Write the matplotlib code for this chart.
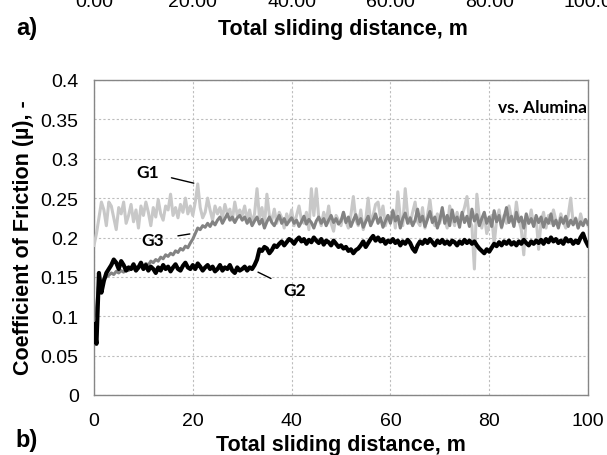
import numpy as np
import matplotlib
matplotlib.use("Agg")
import matplotlib.pyplot as plt
from matplotlib.transforms import blended_transform_factory

# ---------------- data (0.5 m steps) ----------------
g2_cof = [
    0.090, 0.065, 0.155, 0.130, 0.145, 0.155, 0.160, 0.165, 0.172, 0.168, 0.160, 0.170, 0.165, 0.158, 0.162, 0.160, 0.166, 0.158, 0.162, 0.168,
    0.160, 0.165, 0.158, 0.163, 0.160, 0.155, 0.162, 0.158, 0.165, 0.160, 0.163, 0.157, 0.162, 0.166, 0.160, 0.158, 0.164, 0.168, 0.162, 0.160,
    0.165, 0.160, 0.167, 0.163, 0.158, 0.162, 0.165, 0.160, 0.163, 0.157, 0.160, 0.165, 0.158, 0.162, 0.160, 0.165, 0.158, 0.155, 0.162, 0.158,
    0.160, 0.163, 0.158, 0.162, 0.160, 0.165, 0.172, 0.185, 0.183, 0.188, 0.186, 0.180, 0.184, 0.190, 0.188, 0.192, 0.195, 0.190, 0.194, 0.198,
    0.196, 0.192, 0.197, 0.200, 0.195, 0.198, 0.192, 0.197, 0.194, 0.200, 0.196, 0.193, 0.198, 0.191, 0.196, 0.194, 0.190, 0.196, 0.192, 0.188,
    0.190, 0.186, 0.188, 0.183, 0.185, 0.180, 0.184, 0.186, 0.190, 0.195, 0.188, 0.193, 0.198, 0.202, 0.196, 0.200, 0.195, 0.198, 0.192, 0.196,
    0.194, 0.198, 0.193, 0.196, 0.190, 0.195, 0.192, 0.197, 0.193, 0.186, 0.182, 0.190, 0.195, 0.192, 0.197, 0.193, 0.198, 0.194, 0.190, 0.196,
    0.193, 0.197, 0.192, 0.195, 0.191, 0.196, 0.194, 0.190, 0.195, 0.192, 0.197, 0.193, 0.196, 0.192, 0.195, 0.190, 0.186, 0.183, 0.180, 0.185,
    0.182, 0.187, 0.192, 0.189, 0.194, 0.190, 0.195, 0.192, 0.196, 0.191, 0.194, 0.190, 0.195, 0.192, 0.197, 0.193, 0.190, 0.195, 0.192, 0.196,
    0.193, 0.197, 0.192, 0.198, 0.194, 0.200, 0.195, 0.198, 0.193, 0.196, 0.192, 0.199, 0.195, 0.197, 0.192, 0.196, 0.193, 0.200, 0.205, 0.196, 0.190,
]

g3_cof = [
    0.100, 0.110, 0.145, 0.140, 0.148, 0.150, 0.152, 0.155, 0.153, 0.157, 0.155, 0.158, 0.156, 0.160, 0.158, 0.162, 0.160, 0.163, 0.161, 0.165,
    0.163, 0.167, 0.165, 0.170, 0.168, 0.172, 0.170, 0.175, 0.173, 0.178, 0.176, 0.180, 0.178, 0.183, 0.181, 0.186, 0.184, 0.189, 0.187, 0.193,
    0.198, 0.205, 0.212, 0.210, 0.215, 0.213, 0.218, 0.214, 0.220, 0.216, 0.222, 0.226, 0.218, 0.224, 0.230, 0.222, 0.226, 0.219, 0.225, 0.228,
    0.222, 0.226, 0.218, 0.224, 0.215, 0.221, 0.226, 0.217, 0.223, 0.212, 0.220, 0.226, 0.219, 0.215, 0.222, 0.228, 0.218, 0.224, 0.216, 0.221,
    0.225, 0.218, 0.222, 0.214, 0.220, 0.227, 0.217, 0.223, 0.219, 0.212, 0.221, 0.226, 0.218, 0.224, 0.215, 0.222, 0.228, 0.219, 0.224, 0.217,
    0.221, 0.232, 0.219, 0.226, 0.214, 0.222, 0.229, 0.217, 0.224, 0.213, 0.220, 0.227, 0.215, 0.222, 0.230, 0.218, 0.225, 0.213, 0.221, 0.228,
    0.218, 0.234, 0.221, 0.227, 0.212, 0.224, 0.231, 0.218, 0.225, 0.215, 0.222, 0.236, 0.220, 0.227, 0.214, 0.223, 0.233, 0.219, 0.226, 0.212,
    0.222, 0.238, 0.218, 0.228, 0.215, 0.235, 0.220, 0.226, 0.213, 0.232, 0.219, 0.227, 0.214, 0.236, 0.221, 0.229, 0.215, 0.224, 0.232, 0.218,
    0.226, 0.214, 0.234, 0.220, 0.228, 0.213, 0.225, 0.238, 0.219, 0.227, 0.214, 0.232, 0.220, 0.226, 0.212, 0.230, 0.218, 0.224, 0.214, 0.228,
    0.219, 0.226, 0.213, 0.224, 0.218, 0.230, 0.215, 0.222, 0.212, 0.225, 0.218, 0.227, 0.214, 0.222, 0.216, 0.224, 0.212, 0.220, 0.215, 0.223, 0.217,
]

g1_cof = [
    0.190, 0.205, 0.225, 0.245, 0.235, 0.215, 0.245, 0.240, 0.225, 0.210, 0.238, 0.230, 0.245, 0.218, 0.228, 0.242, 0.220, 0.235, 0.212, 0.240,
    0.228, 0.245, 0.232, 0.215, 0.238, 0.226, 0.248, 0.230, 0.222, 0.240, 0.235, 0.255, 0.228, 0.238, 0.225, 0.242, 0.232, 0.250, 0.230, 0.240,
    0.228, 0.245, 0.268, 0.238, 0.225, 0.232, 0.250, 0.235, 0.222, 0.240, 0.230, 0.238, 0.225, 0.242, 0.230, 0.236, 0.222, 0.245, 0.228, 0.235,
    0.228, 0.240, 0.222, 0.235, 0.218, 0.230, 0.262, 0.225, 0.238, 0.215, 0.255, 0.228, 0.222, 0.236, 0.218, 0.232, 0.225, 0.212, 0.230, 0.220,
    0.235, 0.215, 0.228, 0.240, 0.222, 0.218, 0.232, 0.210, 0.262, 0.228, 0.262, 0.225, 0.215, 0.232, 0.220, 0.240, 0.218, 0.208, 0.228, 0.222,
    0.215, 0.232, 0.220, 0.212, 0.228, 0.252, 0.222, 0.215, 0.235, 0.210, 0.222, 0.250, 0.218, 0.228, 0.242, 0.245, 0.225, 0.240, 0.215, 0.228,
    0.220, 0.235, 0.212, 0.258, 0.225, 0.215, 0.262, 0.228, 0.218, 0.232, 0.245, 0.220, 0.215, 0.238, 0.212, 0.228, 0.248, 0.222, 0.215, 0.230,
    0.218, 0.235, 0.222, 0.212, 0.240, 0.225, 0.215, 0.232, 0.220, 0.228, 0.238, 0.252, 0.222, 0.215, 0.160, 0.255, 0.225, 0.212, 0.230, 0.205,
    0.215, 0.228, 0.192, 0.222, 0.235, 0.212, 0.228, 0.218, 0.240, 0.225, 0.215, 0.245, 0.222, 0.210, 0.178, 0.228, 0.218, 0.235, 0.215, 0.225,
    0.185, 0.220, 0.232, 0.212, 0.228, 0.218, 0.235, 0.222, 0.215, 0.230, 0.220, 0.212, 0.228, 0.250, 0.218, 0.225, 0.212, 0.230, 0.218, 0.222, 0.215,
]

x_ticks = [0, 20, 40, 60, 80, 100]
y_ticks = [0, 0.05, 0.1, 0.15, 0.2, 0.25, 0.3, 0.35, 0.4]
y_tick_labels = ["0", "0.05", "0.1", "0.15", "0.2", "0.25", "0.3", "0.35", "0.4"]
top_tick_labels = ["0.00", "20.00", "40.00", "60.00", "80.00", "100.0"]

# ---------------- figure ----------------
plt.rcParams['font.family'] = ['Liberation Sans', 'DejaVu Sans']
W, H = 607, 456
fig = plt.figure(figsize=(W / 100, H / 100), dpi=100)
ax = fig.add_axes([94 / W, 1 - 396 / H, (588 - 94) / W, (396 - 81) / H])

def xs(series):
    return np.linspace(0, 100, len(series))

ax.plot(xs(g1_cof), g1_cof, color='#c8c8c8', lw=2.2, zorder=3, solid_joinstyle='round')
ax.plot(xs(g3_cof), g3_cof, color='#838383', lw=2.2, zorder=4, solid_joinstyle='round')
ax.plot(xs(g2_cof), g2_cof, color='black', lw=3.0, zorder=5, solid_joinstyle='round')

ax.set_xlim(0, 100)
ax.set_ylim(0, 0.4)
ax.set_xticks(x_ticks)
ax.set_xticklabels([str(v) for v in x_ticks])
ax.set_yticks(y_ticks)
ax.set_yticklabels(y_tick_labels)
ax.tick_params(axis='both', length=0, labelsize=14, colors='black')
ax.tick_params(axis='y', pad=11)
ax.tick_params(axis='x', pad=12)
ax.grid(True, color='#bdbdbd', linestyle=(0, (2, 2)), lw=0.8, zorder=0)
for s in ax.spines.values():
    s.set_color('#868686')
    s.set_linewidth(1.0)

lab_font = dict(family=['Lato', 'DejaVu Sans'], fontweight='bold', fontsize=12.5)
ax.annotate('G1', xy=(20.2, 0.269), xytext=(10.9, 0.283), ha='center', va='center',
            arrowprops=dict(arrowstyle='-', color='black', lw=1.0, shrinkA=7, shrinkB=0), **lab_font)
ax.annotate('G3', xy=(19.4, 0.2045), xytext=(11.9, 0.197), ha='center', va='center',
            arrowprops=dict(arrowstyle='-', color='black', lw=1.0, shrinkA=8, shrinkB=0), **lab_font)
ax.annotate('G2', xy=(33.2, 0.156), xytext=(40.7, 0.133), ha='center', va='center',
            arrowprops=dict(arrowstyle='-', color='black', lw=1.0, shrinkA=8, shrinkB=0), **lab_font)
ax.text(0.998, 0.914, 'vs. Alumina', transform=ax.transAxes, ha='right', va='center', **lab_font)

# axis titles and panel labels
fig.text(24 / W, 1 - 238 / H, 'Coefficient of Friction (µ), -', rotation=90,
         ha='center', va='center', fontsize=15.5, fontweight='bold')
fig.text(341 / W, 1 - 446 / H, 'Total sliding distance, m', ha='center', va='center',
         fontsize=15.5, fontweight='bold')
fig.text(27 / W, 1 - 441 / H, 'b)', ha='center', va='center', fontsize=17, fontweight='bold')

# remnants of the panel above (a), cut by the top edge as in the reference
fig.text(343 / W, 1 - 29 / H, 'Total sliding distance, m', ha='center', va='center',
         fontsize=15.5, fontweight='bold')
fig.text(27 / W, 1 - 28 / H, 'a)', ha='center', va='center', fontsize=17, fontweight='bold')
trans = blended_transform_factory(ax.transData, fig.transFigure)
for xv, lab in zip(x_ticks, top_tick_labels):
    fig.text(xv, 1 - 7 / H, lab, transform=trans, ha='center', va='baseline', fontsize=14)

fig.savefig('out.png', dpi=100)
